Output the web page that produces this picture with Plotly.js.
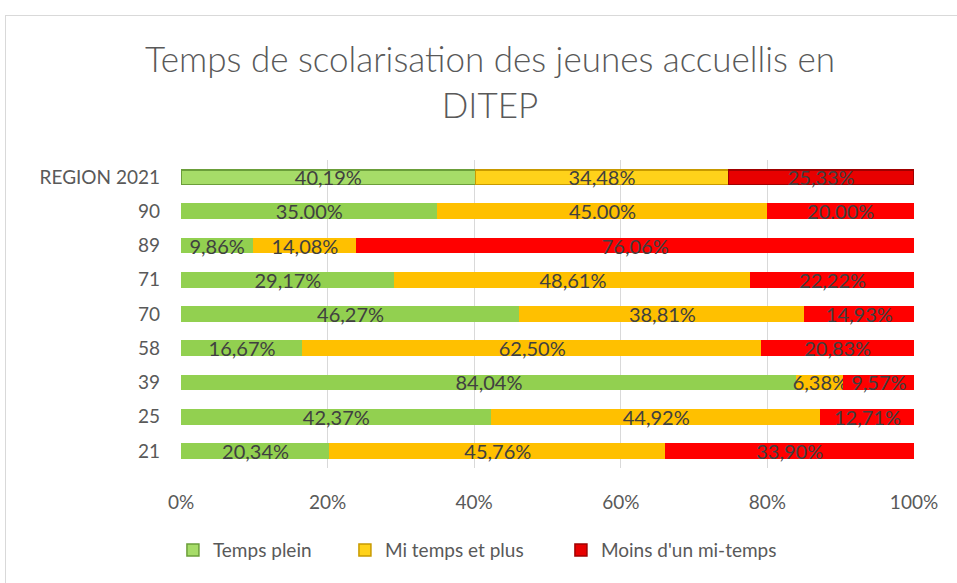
<!DOCTYPE html>
<html>
<head>
<meta charset="utf-8">
<script src="https://cdn.plot.ly/plotly-3.0.1.min.js"></script>
<style>
  body { margin: 0; background: #fff; }
  #frame { position: absolute; left: 5px; top: 15px; width: 960px; height: 580px; border: 1px solid #d9d9d9; box-sizing: border-box; }
  #chart { position: absolute; left: 0; top: 0; width: 957px; height: 583px; }
</style>
</head>
<body>
<div id="frame"></div>
<div id="chart"></div>
<script>
// rows from top to bottom
var categories = ['REGION 2021', '90', '89', '71', '70', '58', '39', '25', '21'];

var tempsPlein = [40.19, 35.00, 9.86, 29.17, 46.27, 16.67, 84.04, 42.37, 20.34];
var miTemps    = [34.48, 45.00, 14.08, 48.61, 38.81, 62.50, 6.38, 44.92, 45.76];
var moinsMi    = [25.33, 20.00, 76.06, 22.22, 14.93, 20.83, 9.57, 12.71, 33.90];

// labels as printed (row 90 uses a dot)
var txtPlein = ['40,19%', '35.00%', '9,86%', '29,17%', '46,27%', '16,67%', '84,04%', '42,37%', '20,34%'];
var txtMi    = ['34,48%', '45.00%', '14,08%', '48,61%', '38,81%', '62,50%', '6,38%', '44,92%', '45,76%'];
var txtMoins = ['25,33%', '20.00%', '76,06%', '22,22%', '14,93%', '20,83%', '9,57%', '12,71%', '33,90%'];

var font = 'Lato, "Noto Sans", sans-serif';

function serie(name, vals, txt, color, topColor, topLine, legW) {
  var colors = categories.map(function (c, i) { return i == 0 ? topColor : color; });
  var lines = categories.map(function (c, i) { return i == 0 ? topLine : color; });
  return {
    type: 'bar',
    orientation: 'h',
    name: name,
    y: categories,
    x: vals.map(function (v) { return v / 100; }),
    text: txt,
    textposition: 'inside',
    insidetextanchor: 'middle',
    constraintext: 'none',
    textfont: { family: font, size: 20, color: '#404040' },
    hoverinfo: 'name+x',
    legendwidth: legW,
    marker: { color: colors, line: { color: lines, width: 1.5 } }
  };
}

var data = [
  serie('Temps plein', tempsPlein, txtPlein, '#92d050', '#a6dc68', '#6b9e3a', 127),
  serie('Mi temps et plus', miTemps, txtMi, '#ffc000', '#ffd21a', '#c89a00', 171),
  serie("Moins d'un mi-temps", moinsMi, txtMoins, '#ff0000', '#e80000', '#a00000', 200)
];

var layout = {
  width: 957,
  height: 583,
  paper_bgcolor: 'rgba(0,0,0,0)',
  plot_bgcolor: 'rgba(0,0,0,0)',
  barmode: 'stack',
  bargap: 0.58,
  margin: { l: 181, r: 43, t: 160, b: 115 },
  font: { family: font, color: '#595959' },
  title: {
    text: 'Temps de scolarisation des jeunes accuellis en<br>DITEP',
    font: { family: font, size: 35, color: '#595959', weight: 300 },
    x: 0.512, xanchor: 'center',
    y: 0.876, yanchor: 'middle'
  },
  xaxis: {
    range: [0, 1],
    tickvals: [0, 0.2, 0.4, 0.6, 0.8, 1],
    tickformat: '.0%',
    showgrid: true,
    gridcolor: '#d9d9d9',
    gridwidth: 1,
    zeroline: false,
    showline: false,
    ticks: '',
    ticklabelstandoff: 21,
    tickfont: { family: font, size: 19, color: '#595959' },
    fixedrange: true
  },
  yaxis: {
    type: 'category',
    categoryorder: 'array',
    categoryarray: categories,
    autorange: 'reversed',
    showgrid: false,
    zeroline: false,
    ticks: '',
    ticklabelstandoff: 20,
    tickfont: { family: font, size: 19, color: '#595959' },
    fixedrange: true
  },
  legend: {
    orientation: 'h',
    x: -0.011, xanchor: 'left',
    y: -0.205, yanchor: 'top',
    font: { family: font, size: 19, color: '#595959' },
    traceorder: 'normal'
  },
  showlegend: true
};

Plotly.newPlot('chart', data, layout, { displayModeBar: false, staticPlot: true });
</script>
</body>
</html>
